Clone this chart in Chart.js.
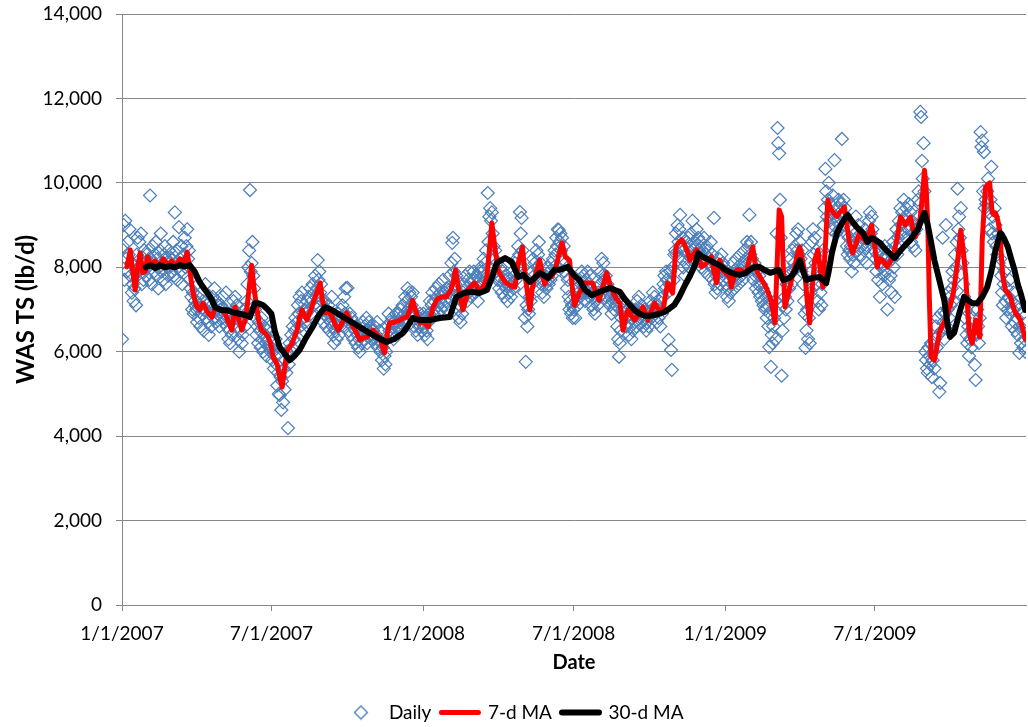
<!DOCTYPE html>
<html>
<head>
<meta charset="utf-8">
<script src="https://cdn.jsdelivr.net/npm/chart.js@4.4.0/dist/chart.umd.min.js"></script>
<style>
  html, body { margin: 0; padding: 0; background: #fff; }
</style>
</head>
<body>
<canvas id="chart" width="1028" height="727"></canvas>
<script>
// Ось X: дни от 1/1/2007 и подписи
const tickDays = [0, 181, 365, 547, 731, 912];
const tickLabels = ['1/1/2007', '7/1/2007', '1/1/2008', '7/1/2008', '1/1/2009', '7/1/2009'];
const yTicks = [0, 2000, 4000, 6000, 8000, 10000, 12000, 14000];

// Суточные значения, lb/d (по месяцам)
const daily2007 = [
  6300, 8500, 9000, 7700, 9100, 8200, 7900, 8600, 8300, 8900, 7800, 8100, 7400, 7600, 7200, 7500, 7900, 7100, 8300, 8700, 8000, 8600, 8200, 8800, 7600, 7900, 7700, 8400, 8100, 7800, 8300,
  8000, 8400, 7700, 9700, 8200, 7600, 8500, 8100, 7900, 8300, 8600, 7800, 8200, 7500, 8000, 8400, 8800, 7900, 8100, 7700, 8300, 8500, 7600, 8200, 8000, 7800, 8400, 8100,
  8200, 7900, 8300, 8600, 7800, 9300, 8100, 8400, 7700, 8000, 8950, 8200, 7900, 8500, 7600, 8100, 8300, 8700, 8000, 8500, 8900, 8200, 8400, 7700, 7500, 7300, 7000, 7400, 6900, 7200, 7100,
  7000, 6700, 7300, 6800, 7100, 6600, 7400, 6900, 7200, 6500, 7000, 7600, 6800, 7100, 6700, 6400, 6900, 7200, 6600, 7000, 7300, 6800, 7500, 7000, 6700, 7200, 6900, 7100, 6600, 7000,
  7100, 6800, 7300, 6700, 7000, 6900, 7400, 6600, 6800, 6300, 6500, 6200, 6700, 6400, 6900, 7200, 7000, 7300, 6800, 7100, 6600, 6300, 6000, 6500, 6700, 6200, 6400, 6800, 7000, 6600, 6900,
  7200, 7600, 8000, 8400, 9830, 7900, 8100, 8600, 7800, 7500, 7000, 6800, 6400, 6600, 6200, 6700, 6500, 6100, 6800, 6300, 6000, 6600, 6400, 6200, 5900, 6500, 6300, 6100, 6600, 6000,
  6100, 5800, 6000, 5600, 5900, 6300, 5700, 5200, 5500, 5000, 4970, 5400, 4620, 5300, 4800, 5600, 5100, 5800, 5500, 6000, 4190, 5700, 6200, 5900, 6400, 6100, 6600, 6300, 6500, 6800, 6200,
  6700, 7100, 6900, 7300, 6600, 7200, 7400, 6800, 6500, 7000, 6700, 6900, 7200, 6600, 7300, 7000, 7500, 6900, 7200, 7600, 7100, 7400, 7800, 7300, 7500, 8170, 7700, 7900, 7400, 7600, 7200,
  7000, 6700, 6900, 7200, 6600, 7000, 6800, 7100, 6500, 6900, 6700, 7300, 6600, 6400, 6200, 6500, 6800, 6300, 6600, 6900, 6400, 6700, 7000, 6800, 7100, 6600, 7300, 6900, 7500, 6800,
  7510, 6700, 6500, 6900, 6400, 6800, 6600, 6300, 6700, 6500, 6200, 6600, 6400, 6100, 6300, 6000, 6500, 6200, 6400, 6700, 6300, 6600, 6500, 6800, 6200, 6500, 6700, 6400, 6600, 6300, 6500,
  6500, 6300, 6600, 6200, 6400, 6700, 6100, 6300, 6500, 6000, 6200, 5800, 6100, 5600, 5900, 5700, 6000, 6300, 6600, 6900, 6500, 6700, 6400, 6800, 6600, 6300, 6700, 6500, 6900, 6600,
  6700, 6900, 6600, 7000, 6800, 6500, 7100, 6700, 6900, 7300, 6800, 7200, 7500, 7000, 7400, 6900, 7300, 7100, 7400, 6800, 6600, 6900, 6500, 6700, 6400, 6800, 6600, 6900, 6700, 6500, 6800
];
const daily2008 = [
  6900, 6600, 6400, 6800, 6500, 6300, 6700, 6900, 7200, 6800, 7100, 7400, 6900, 7200, 7000, 7500, 7300, 6900, 7100, 7600, 7200, 7400, 7000, 7300, 7700, 7100, 7400, 7200, 7500, 7000, 7300,
  7400, 7800, 7500, 8100, 8580, 8700, 7900, 8200, 7600, 7800, 7300, 7000, 6800, 7100, 6700, 7200, 6900, 7400, 7600, 7300, 7800, 7500, 7200, 7700, 7400, 7900, 7600, 7300, 7700,
  7500, 7900, 7700, 7400, 7800, 7600, 7200, 7500, 7900, 7700, 8000, 7600, 7900, 8200, 7800, 8100, 8400, 7700, 9760, 8600, 9200, 9400, 9100, 9300, 8800, 8500, 8200, 8400, 7900, 8100, 7700,
  7800, 7500, 7700, 8000, 7400, 7900, 7600, 7300, 7700, 7500, 7800, 7200, 7600, 7400, 7700, 7300, 7600, 7900, 7500, 7800, 8100, 7700, 8200, 8000, 8500, 8300, 9310, 8800, 9170, 8400,
  8000, 7400, 6800, 5760, 7100, 6600, 7000, 6900, 7300, 7200, 7600, 7900, 8200, 7800, 8100, 7700, 8400, 8000, 8300, 8600, 7900, 8100, 7600, 7400, 7700, 7300, 7600, 7800, 7500, 8000, 7700,
  7600, 7900, 7700, 8100, 7800, 8200, 8000, 8400, 8300, 8700, 8500, 8900, 8880, 8600, 8800, 8400, 8700, 8200, 8500, 7900, 8100, 7800, 7500, 7700, 7300, 7000, 7200, 6900, 7100, 6800,
  7000, 7300, 6800, 7200, 7500, 7100, 7400, 7700, 7300, 7600, 7900, 7400, 7800, 7500, 7200, 7700, 7400, 7900, 7600, 7300, 7800, 7500, 7100, 7400, 7000, 7300, 6900, 7200, 7500, 7100, 7400,
  7300, 7600, 7900, 8200, 7800, 8100, 7700, 7500, 7800, 7300, 7600, 7200, 7400, 7100, 7300, 6900, 7200, 7400, 7000, 7300, 7100, 7200, 6600, 6300, 5880, 6200, 6500, 6800, 7000, 7200, 6900,
  7100, 6800, 6600, 7000, 6700, 6400, 6900, 6600, 6300, 6800, 6500, 6900, 6700, 7000, 6600, 7200, 6900, 7300, 7000, 6800, 7100, 6700, 6900, 6600, 7000, 6800, 6500, 6700, 6900, 6600,
  6900, 7200, 6800, 7100, 7400, 7000, 7300, 6900, 7100, 6700, 7000, 6800, 7200, 6600, 7000, 6900, 7300, 7600, 7800, 7500, 7900, 7700, 7400, 6280, 7600, 7900, 6040, 5570, 8000, 7700, 8300,
  8400, 8800, 8300, 9000, 8600, 8900, 9240, 8500, 8200, 8700, 8000, 8400, 7800, 8100, 8600, 8300, 8700, 8000, 8500, 8800, 8200, 9100, 8400, 8600, 8100, 8500, 8900, 8300, 8700, 8400,
  8300, 8600, 8000, 8400, 8200, 8700, 7900, 8300, 8500, 8100, 8400, 7800, 8200, 8600, 8000, 8300, 7700, 9170, 7600, 7400, 7800, 7500, 7900, 8200, 7600, 8000, 8300, 7900, 8100, 7700, 8000
];
const daily2009 = [
  7900, 7600, 7300, 7500, 7200, 7700, 7400, 7800, 7600, 8100, 7900, 7500, 7800, 8200, 7700, 8000, 7600, 7900, 8300, 7800, 8100, 7700, 8000, 8400, 7900, 8200, 8600, 8100, 8500, 9240, 8300,
  8600, 8200, 8000, 7700, 8100, 7800, 7500, 7900, 7600, 7400, 7800, 7300, 7600, 7200, 7500, 7100, 7400, 7000, 7300, 6800, 7100, 6600, 6110, 6900, 5640, 6400, 6200, 6600,
  6800, 7200, 6300, 8800, 11300, 10940, 10700, 9600, 8700, 5430, 6500, 7100, 6800, 7300, 7000, 7600, 7200, 7800, 7500, 7900, 8200, 7600, 8400, 7900, 8100, 8500, 8000, 8800, 8400, 8900, 8300,
  8600, 8200, 7900, 8400, 7600, 7200, 6900, 6090, 6500, 7000, 6300, 6800, 6200, 7400, 7900, 8600, 8900, 8300, 8700, 8100, 8400, 7600, 7200, 7000, 7800, 7400, 7100, 7600, 8400, 9000,
  9400, 10330, 9800, 9200, 9600, 10000, 9100, 9500, 8900, 9300, 9700, 9000, 10540, 9200, 8800, 9400, 9100, 9600, 8900, 9300, 9500, 11040, 9200, 9600, 9000, 9400, 8800, 8500, 8300, 8700, 8400,
  8200, 8500, 7900, 8300, 8600, 8100, 8800, 9200, 8700, 8400, 9000, 8600, 8300, 8800, 8500, 8200, 8700, 8400, 8900, 8600, 8100, 8500, 8700, 9100, 9300, 8800, 9200, 8900, 8600, 8400,
  8600, 8200, 7900, 8300, 7700, 8100, 7300, 8400, 8000, 7600, 8200, 7800, 8500, 7900, 8300, 7000, 8100, 7700, 8400, 7800, 7400, 8200, 8600, 8000, 7300, 8500, 8900, 8300, 8700, 9100, 8800,
  9400, 9000, 9300, 8800, 9600, 9100, 8700, 9400, 9200, 8900, 9500, 9000, 9300, 8600, 9100, 8500, 8800, 9000, 8400, 8900, 9200, 9600, 9800, 9500, 11680, 11560, 10520, 10100, 10940, 9800, 6000,
  5800, 5600, 5500, 6100, 5900, 5700, 6200, 5400, 5800, 6000, 5600, 6300, 6600, 6100, 6800, 6400, 5050, 5260, 6900, 6500, 8700, 6700, 6300, 6900, 9000, 6600, 7000, 7400, 6800, 7300,
  7100, 7500, 7900, 7200, 7700, 8300, 8000, 8600, 9860, 8900, 9200, 8700, 9400, 8400, 8100, 7600, 7300, 6800, 7000, 6400, 6200, 6600, 5900, 6300, 6500, 6100, 6800, 6400, 7000, 5690, 5330,
  6400, 7000, 6600, 6200, 6800, 11200, 10850, 11000, 9800, 10730, 9400, 9600, 9500, 9800, 10100, 9300, 8900, 9600, 10380, 8800, 9200, 8600, 9400, 9000, 8500, 8300, 8800, 8100, 8700, 8200,
  7800, 7400, 7100, 7600, 7900, 7200, 6800, 7500, 7000, 7300, 7700, 6900, 7200, 6600, 7000, 7400, 6700, 6500, 7100, 6800, 6400, 7000, 5970, 6600, 6200, 6500, 6900, 6100, 6300, 6000
];

// 7-дневное скользящее среднее (день, значение)
const ma7Days = [
  6, 10, 13, 16, 19, 22, 25, 28, 31, 35, 40, 45, 50, 55, 60, 65, 70, 75, 79, 83, 86, 90, 94, 98, 103, 109, 113, 119,
  125, 129, 133, 137, 141, 145, 150, 154, 157, 160, 163, 166, 169, 173, 177, 180, 183, 188, 191, 194, 197, 200, 203,
  206, 209, 212, 215, 218, 221, 224, 227, 230, 234, 237, 240, 243, 246, 250, 254, 258, 262, 267, 272, 276, 280, 284,
  288, 292, 297, 300, 304, 308, 312, 315, 318, 321, 324, 330, 337, 341, 345, 349, 352, 356, 361, 366, 371, 377, 382,
  388, 393, 398, 401, 404, 408, 413, 416, 419, 423, 427, 431, 434, 438, 442, 445, 448, 452, 456, 460, 464, 468, 472,
  476, 480, 485, 489, 494, 497, 500, 506, 509, 512, 516, 520, 524, 528, 533, 537, 542, 545, 548, 552, 556, 560, 564,
  570, 574, 578, 582, 587, 591, 595, 599, 603, 607, 610, 613, 617, 621, 626, 631, 634, 637, 641, 645, 650, 655, 658,
  661, 664, 667, 671, 674, 678, 681, 684, 688, 692, 696, 699, 702, 705, 708, 711, 714, 717, 720, 724, 728, 732, 736,
  738, 741, 745, 748, 752, 756, 760, 764, 767, 770, 775, 780, 786, 789, 791, 793, 796, 799, 801, 803, 806, 809, 812,
  815, 818, 821, 824, 827, 830, 833, 836, 839, 843, 846, 849, 852, 855, 858, 862, 866, 869, 872, 875, 878, 881, 885,
  889, 893, 897, 901, 905, 908, 911, 915, 918, 921, 924, 927, 931, 935, 939, 943, 946, 949, 952, 955, 958, 961, 964,
  967, 970, 972, 974, 976, 978, 980, 984, 987, 990, 993, 996, 1000, 1004, 1007, 1010, 1013, 1016, 1019, 1022, 1024,
  1026, 1028, 1030, 1032, 1034, 1036, 1039, 1042, 1044, 1046, 1048, 1051, 1054, 1056, 1058, 1061, 1063, 1065, 1067,
  1070, 1073, 1076, 1079, 1082, 1085, 1088, 1091, 1094
];
const ma7Values = [
  8010, 8410, 7900, 7460, 8000, 8340, 7870, 7900, 8250, 8050, 8150, 8000, 8200, 8050, 8150, 8000, 8200, 8100, 8360, 7800, 7390, 7100, 6990, 7150, 6950, 6820, 7060, 7000,
  6900, 6700, 6510, 7060, 6800, 6510, 6820, 7500, 8050, 7500, 7060, 6700, 6510, 6450, 6350, 6200, 5880, 5700, 5400, 5160, 5600, 6040, 6100,
  6200, 6350, 6510, 6800, 6990, 6850, 6750, 6900, 7060, 7300, 7450, 7630, 7200, 6920, 6950, 6840, 6650, 6510, 6700, 6920, 6750, 6590, 6450,
  6280, 6330, 6350, 6420, 6510, 6420, 6350, 6150, 5970, 6400, 6680, 6700, 6750, 6800, 6820, 7000, 7220, 6950, 6680, 6700, 6590, 7060, 7250,
  7300, 7300, 7450, 7630, 7940, 7450, 6990, 7200, 7460, 7550, 7630, 7500, 7460, 7550, 7770, 8400, 9050, 8410, 7900, 7770, 7650, 7600, 7550,
  7530, 8100, 8480, 7700, 6990, 7500, 7770, 8170, 7850, 7600, 7770, 7770, 7900, 8200, 8580, 8250, 8170, 7600, 7100, 7300, 7460, 7630, 7630,
  7630, 7400, 7220, 7500, 7870, 7600, 7390, 7250, 7150, 6510, 6800, 6990, 6850, 6750, 6900, 7060, 6900, 6750, 6950, 7150, 7000, 6920, 7300,
  7630, 7500, 7390, 8480, 8580, 8650, 8550, 8410, 8170, 8300, 8410, 8200, 8010, 8050, 8100, 8200, 8250, 7900, 7630, 8170, 7940, 7850, 7770,
  7530, 7750, 7940, 7940, 7900, 7870, 8200, 8480, 8100, 7870, 7700, 7530, 7220, 6900, 6680, 7800, 9360, 9200, 8000, 7060, 7300, 7530, 7800,
  8010, 8300, 8480, 8200, 7870, 7200, 6680, 7500, 8170, 8410, 7900, 7530, 8500, 9590, 9400, 9290, 9200, 9290, 9350, 9430, 9000, 8600, 8340,
  8550, 8810, 8700, 8600, 8800, 9000, 8600, 8010, 8200, 8170, 8100, 8010, 8150, 8340, 8700, 9190, 9100, 9000, 9100, 9190, 8900, 8720, 8900,
  9190, 9800, 10300, 9900, 9050, 7200, 5880, 5800, 6100, 6440, 6600, 6700, 6900, 7150, 7400, 7800, 8300, 8880, 8400, 7800, 7100,
  6510, 6300, 6200, 6500, 6750, 6500, 6350, 8650, 9300, 9900, 9950, 10000, 9290, 9250, 9290, 9100, 8880, 8300, 7770,
  7460, 7400, 7300, 7100, 6920, 6850, 6750, 6550, 6300
];

// 30-дневное скользящее среднее (день, значение)
const ma30Days = [
  29, 35, 40, 46, 52, 58, 64, 70, 76, 82, 88, 94, 100, 107, 113, 120, 128, 135, 142, 149, 155, 161, 165, 171, 177, 181,
  185, 191, 197, 203, 209, 215, 222, 231, 238, 246, 253, 260, 270, 280, 290, 300, 310, 320, 330, 340, 346, 352, 361,
  373, 385, 397, 405, 413, 421, 427, 433, 442, 448, 454, 464, 472, 480, 486, 494, 500, 506, 516, 524, 530, 540, 548,
  554, 561, 569, 574, 579, 585, 591, 597, 603, 609, 615, 621, 627, 633, 639, 645, 651, 657, 663, 669, 675, 682, 688,
  694, 698, 703, 712, 718, 724, 730, 736, 742, 748, 755, 760, 766, 772, 778, 785, 790, 795, 801, 809, 815, 821, 825,
  829, 837, 845, 853, 856, 860, 866, 872, 879, 884, 890, 898, 903, 908, 912, 918, 926, 936, 943, 950, 955, 960, 964,
  968, 972, 976, 980, 984, 990, 996, 1000, 1003, 1008, 1014, 1020, 1026, 1030, 1036, 1042, 1048, 1053, 1058, 1064,
  1068, 1073, 1077, 1081, 1085, 1089, 1094
];
const ma30Values = [
  8000, 8050, 7980, 8050, 8000, 8030, 8000, 8050, 8020, 8050, 7900, 7650, 7480, 7300, 7050, 6990, 6980, 6930, 6900, 6870, 6820, 7150, 7150, 7100, 6990, 6900,
  6500, 6110, 5950, 5800, 5900, 6040, 6300, 6590, 6850, 7060, 7000, 6920, 6800, 6680, 6560, 6440, 6330, 6230, 6300, 6440, 6600, 6800, 6750,
  6750, 6800, 6820, 7300, 7380, 7420, 7410, 7390, 7460, 7750, 8100, 8220, 8130, 7770, 7820, 7650, 7750, 7870, 7750, 7940, 7940, 8010, 7800,
  7700, 7460, 7340, 7380, 7420, 7470, 7510, 7460, 7420, 7250, 7110, 6980, 6900, 6850, 6850, 6870, 6900, 6940, 7020, 7110, 7300, 7580, 7800,
  8050, 8330, 8250, 8170, 8100, 8050, 7950, 7890, 7840, 7820, 7860, 7940, 8000, 8010, 7940, 7870, 7900, 7940, 7700, 7750, 7900, 8170, 7900,
  7700, 7750, 7770, 7630, 7900, 8350, 8810, 9050, 9240, 9100, 8950, 8800, 8600, 8700, 8650, 8580, 8400, 8220, 8400, 8550, 8650, 8800, 8900,
  9100, 9290, 9000, 8600, 8170, 7700, 7220, 6650, 6350, 6450, 6900, 7300, 7200, 7150, 7150, 7300, 7530, 7900, 8400, 8810,
  8700, 8480, 8200, 7940, 7600, 7350, 6990
];

const dailyValues = [...daily2007, ...daily2008, ...daily2009];
const dailyPoints = dailyValues.map((v, i) => ({ x: i, y: v }));
const ma7Points = ma7Days.map((d, i) => ({ x: d, y: ma7Values[i] }));
const ma30Points = ma30Days.map((d, i) => ({ x: d, y: ma30Values[i] }));

const gray = '#868686';
const fontName = 'Lato';

// Значок ромба для легенды
const diamondIcon = document.createElement('canvas');
diamondIcon.width = 16;
diamondIcon.height = 16;
(function () {
  const c = diamondIcon.getContext('2d');
  c.strokeStyle = '#4A7EBB';
  c.lineWidth = 1.3;
  c.beginPath();
  c.moveTo(1.5, 8); c.lineTo(8, 1.5); c.lineTo(14.5, 8); c.lineTo(8, 14.5);
  c.closePath();
  c.stroke();
})();

new Chart(document.getElementById('chart'), {
  type: 'scatter',
  data: {
    datasets: [
      {
        label: 'Daily',
        data: dailyPoints,
        pointStyle: 'rectRot',
        pointRadius: 6.5,
        pointHoverRadius: 6.5,
        borderColor: '#4A7EBB',
        backgroundColor: 'rgba(0,0,0,0)',
        borderWidth: 1.2,
        order: 3
      },
      {
        label: '7-d MA',
        data: ma7Points,
        showLine: true,
        borderColor: '#FF0000',
        backgroundColor: '#FF0000',
        borderWidth: 5,
        pointRadius: 0,
        pointHoverRadius: 0,
        pointStyle: 'line',
        borderJoinStyle: 'round',
        borderCapStyle: 'round',
        order: 2
      },
      {
        label: '30-d MA',
        data: ma30Points,
        showLine: true,
        borderColor: '#000000',
        backgroundColor: '#000000',
        borderWidth: 6,
        pointRadius: 0,
        pointHoverRadius: 0,
        pointStyle: 'line',
        borderJoinStyle: 'round',
        borderCapStyle: 'round',
        order: 1
      }
    ]
  },
  options: {
    responsive: false,
    animation: false,
    layout: { autoPadding: false, padding: { top: 14, right: 2, bottom: -5, left: 0 } },
    plugins: {
      tooltip: { enabled: false },
      legend: {
        position: 'bottom',
        labels: {
          usePointStyle: true,
          pointStyleWidth: 37,
          padding: 10,
          color: '#000',
          font: { family: fontName, size: 19 },
          sort: (a, b) => a.datasetIndex - b.datasetIndex,
          generateLabels(chart) {
            const items = Chart.defaults.plugins.legend.labels.generateLabels(chart);
            items.forEach(it => {
              it.lineCap = 'round';
              if (it.datasetIndex === 0) it.pointStyle = diamondIcon;
            });
            return items;
          }
        }
      }
    },
    scales: {
      x: {
        type: 'linear',
        min: 0,
        max: 1095,
        afterBuildTicks: s => { s.ticks = tickDays.map(v => ({ value: v })); },
        afterFit: s => { s.height = 88; s.paddingLeft = 0; s.paddingRight = 0; },
        ticks: {
          callback: v => tickLabels[tickDays.indexOf(v)],
          autoSkip: false,
          maxRotation: 0,
          padding: 11,
          color: '#000',
          font: { family: fontName, size: 19 }
        },
        grid: { drawOnChartArea: false, drawTicks: true, tickLength: 6, color: gray },
        border: { color: gray, width: 1 },
        title: {
          display: true,
          text: 'Date',
          color: '#000',
          font: { family: fontName, size: 20, weight: 'bold' },
          padding: { top: 0, bottom: 18 }
        }
      },
      y: {
        min: 0,
        max: 14000,
        afterBuildTicks: s => { s.ticks = yTicks.map(v => ({ value: v })); },
        afterFit: s => { s.width = 122; s.paddingTop = 0; s.paddingBottom = 0; },
        ticks: {
          callback: v => v.toLocaleString('en-US'),
          padding: 14,
          color: '#000',
          font: { family: fontName, size: 19 }
        },
        grid: { color: gray, lineWidth: 1, drawTicks: true, tickLength: 6 },
        border: { color: gray, width: 1 },
        title: {
          display: true,
          text: 'WAS TS (lb/d)',
          color: '#000',
          font: { family: fontName, size: 24, weight: 'bold' },
          padding: { top: 12, bottom: 0 }
        }
      }
    }
  }
});
</script>
</body>
</html>
